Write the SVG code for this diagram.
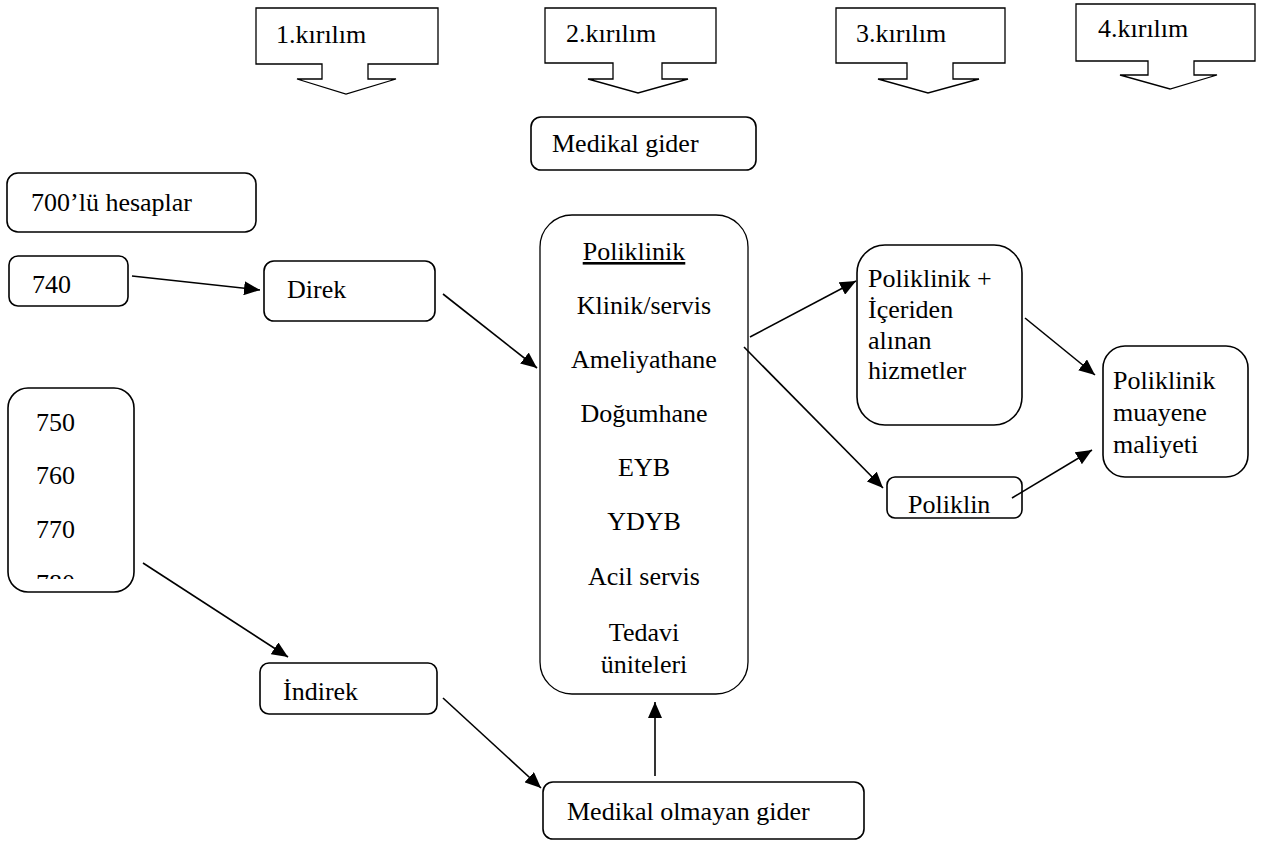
<svg xmlns="http://www.w3.org/2000/svg" width="1261" height="843" viewBox="0 0 1261 843">
<style>
.b{fill:#fff;stroke:#000;stroke-width:1.6}
.c{fill:#fff;stroke:#000;stroke-width:1.3}
.m{text-anchor:middle}
.e{fill:none;stroke:#000;stroke-width:1.6}
</style>
<defs>
<marker id="ah" markerUnits="userSpaceOnUse" markerWidth="18" markerHeight="14" refX="16" refY="7" orient="auto">
<path d="M0,0 L16,7 L0,14 Z" fill="#000"/>
</marker>
<clipPath id="clip780"><rect x="10" y="560" width="120" height="19"/></clipPath>
</defs>
<rect width="1261" height="843" fill="#fff"/>
<g font-family="'Liberation Serif', 'Times New Roman', serif" font-size="26" fill="#000">
<g id="k1"><path class="c" d="M256,8 H438 V64 H368 V79 H396 L346,94 L297,79 H322 V64 H256 Z"/><text x="276" y="43">1.kırılım</text></g>
<g id="k2"><path class="c" d="M545,8 H716 V63 H662 V79 H688 L638,93 L588,79 H613 V63 H545 Z"/><text x="566" y="42">2.kırılım</text></g>
<g id="k3"><path class="c" d="M836,8 H1005 V63 H953 V79 H979 L928,93 L878,79 H907 V63 H836 Z"/><text x="856" y="42">3.kırılım</text></g>
<g id="k4"><path class="c" d="M1076,4 H1255 V61 H1194 V75 H1217 L1170,89 L1120,75 H1148 V61 H1076 Z"/><text x="1098" y="37">4.kırılım</text></g>
<g id="medikal"><rect class="b" x="531" y="117" width="225" height="53" rx="10"/><text x="552" y="152">Medikal gider</text></g>
<g id="hesaplar"><rect class="b" x="7" y="173" width="249" height="59" rx="11"/><text x="31" y="211">700’lü hesaplar</text></g>
<g id="n740"><rect class="b" x="9" y="256" width="119" height="50" rx="9"/><text x="32" y="293">740</text></g>
<g id="direk"><rect class="b" x="264" y="261" width="171" height="60" rx="10"/><text x="287" y="298">Direk</text></g>
<g id="n750"><rect class="b" x="8" y="388" width="126" height="204" rx="20"/>
<text x="36" y="431">750</text><text x="36" y="484">760</text><text x="36" y="538">770</text>
<text x="36" y="592" clip-path="url(#clip780)">780</text></g>
<g id="indirek"><rect class="b" x="260" y="663" width="177" height="51" rx="9"/><text x="283" y="700">İndirek</text></g>
<g id="poliklinik"><rect class="c" x="540" y="215" width="208" height="479" rx="32"/>
<text class="m" x="634" y="260" text-decoration="underline">Poliklinik</text>
<text class="m" x="644" y="314">Klinik/servis</text>
<text class="m" x="644" y="368">Ameliyathane</text>
<text class="m" x="644" y="422">Doğumhane</text>
<text class="m" x="644" y="476">EYB</text>
<text class="m" x="644" y="530">YDYB</text>
<text class="m" x="644" y="585">Acil servis</text>
<text class="m" x="644" y="641">Tedavi</text>
<text class="m" x="644" y="673">üniteleri</text></g>
<g id="olmayan"><rect class="b" x="543" y="782" width="321" height="57" rx="10"/><text x="567" y="820">Medikal olmayan gider</text></g>
<g id="polplus"><rect class="b" x="857" y="245" width="165" height="180" rx="28"/>
<text x="868" y="287">Poliklinik +</text><text x="868" y="318">İçeriden</text><text x="868" y="349">alınan</text><text x="868" y="379">hizmetler</text></g>
<g id="poliklin"><rect class="b" x="887" y="477" width="135" height="41" rx="8"/><text x="908" y="513">Poliklin</text></g>
<g id="maliyet"><rect class="b" x="1103" y="346" width="145" height="131" rx="22"/>
<text x="1113" y="389">Poliklinik</text><text x="1113" y="421">muayene</text><text x="1113" y="453">maliyeti</text></g>
</g>
<g id="connectors">
<line class="e" x1="132" y1="276" x2="260" y2="290" marker-end="url(#ah)"/>
<line class="e" x1="443" y1="294" x2="537" y2="368" marker-end="url(#ah)"/>
<line class="e" x1="143" y1="563" x2="288" y2="657" marker-end="url(#ah)"/>
<line class="e" x1="443" y1="698" x2="541" y2="788" marker-end="url(#ah)"/>
<line class="e" x1="655" y1="776" x2="655" y2="702" marker-end="url(#ah)"/>
<line class="e" x1="750" y1="337" x2="856" y2="281" marker-end="url(#ah)"/>
<line class="e" x1="744" y1="347" x2="883" y2="488" marker-end="url(#ah)"/>
<line class="e" x1="1025" y1="318" x2="1095" y2="375" marker-end="url(#ah)"/>
<line class="e" x1="1012" y1="498" x2="1092" y2="450" marker-end="url(#ah)"/>
</g>
</svg>
